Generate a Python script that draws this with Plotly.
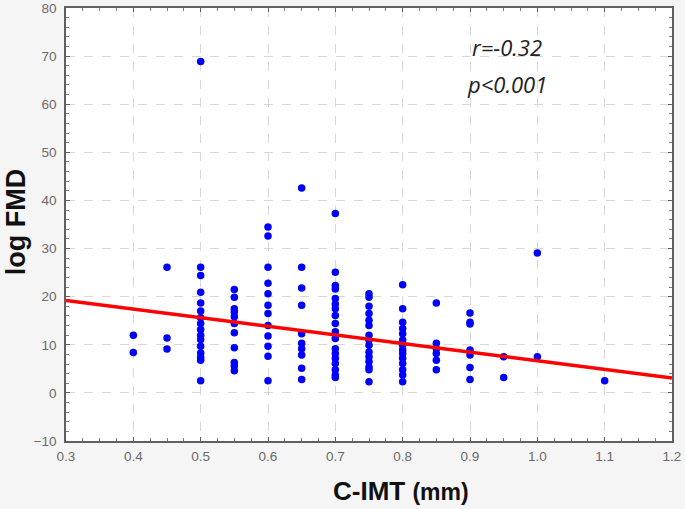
import plotly.graph_objects as go

# C-IMT (mm) value per column and log FMD values
imt_levels = [0.4, 0.45, 0.5, 0.55, 0.6, 0.65, 0.7, 0.75, 0.8, 0.85, 0.9, 0.95, 1.0, 1.1]
fmd_by_level = [
    [12.0, 8.4],
    [26.1, 11.4, 9.1],
    [68.9, 26.1, 24.4, 20.9, 18.7, 17.0, 15.6, 14.4, 13.2, 12.0, 11.1, 9.7, 8.3, 7.4, 6.8, 2.5],
    [21.5, 19.9, 17.5, 16.8, 15.8, 14.4, 12.5, 9.4, 6.3, 5.6, 4.6],
    [34.5, 32.6, 26.1, 22.8, 20.6, 18.2, 16.5, 14.0, 11.8, 9.7, 7.6, 2.5],
    [42.6, 26.1, 21.8, 18.2, 12.3, 10.3, 9.2, 7.9, 5.1, 2.8],
    [37.3, 25.1, 22.3, 21.6, 19.6, 18.5, 17.5, 16.1, 14.4, 12.7, 11.3, 9.2, 8.2, 7.2, 6.1, 4.8, 3.7, 3.2],
    [20.6, 19.9, 18.0, 16.5, 15.1, 14.0, 12.0, 11.0, 9.9, 8.5, 7.5, 6.5, 5.4, 4.8, 2.3],
    [22.5, 17.5, 14.7, 13.4, 12.3, 11.0, 9.9, 8.9, 8.2, 7.2, 6.1, 4.8, 3.7, 2.3],
    [18.7, 10.3, 9.2, 8.2, 6.8, 4.8],
    [16.6, 14.7, 14.3, 8.9, 7.9, 5.3, 2.8],
    [7.5, 3.2],
    [29.1, 7.5],
    [2.5],
]

# regression line end points
fit_x = [0.3, 1.2]
fit_y = [19.2, 3.1]

x_ticks = [0.3, 0.4, 0.5, 0.6, 0.7, 0.8, 0.9, 1.0, 1.1, 1.2]
x_tick_text = ["0.3", "0.4", "0.5", "0.6", "0.7", "0.8", "0.9", "1.0", "1.1", "1.2"]
y_ticks = [-10, 0, 10, 20, 30, 40, 50, 60, 70, 80]

xs, ys = [], []
for lvl, vals in zip(imt_levels, fmd_by_level):
    for v in vals:
        xs.append(lvl)
        ys.append(v)

fig = go.Figure()
fig.add_trace(go.Scatter(x=xs, y=ys, mode="markers",
                         marker=dict(color="#0000ff", size=7.5, line=dict(width=0)),
                         showlegend=False, cliponaxis=False))
fig.add_trace(go.Scatter(x=fit_x, y=fit_y, mode="lines",
                         line=dict(color="#ff0000", width=3.5), showlegend=False))

tickfont = dict(family="Liberation Sans, Arial", size=13.5, color="#6a6a6a")
common = dict(showgrid=True, gridcolor="#d8d8d8", griddash="dash", gridwidth=1,
              zeroline=False, showline=True, linecolor="#606060", linewidth=1.5, mirror="ticks",
              ticks="inside", ticklen=4, tickcolor="#606060", tickfont=tickfont,
              automargin=False)
fig.update_xaxes(range=[0.3, 1.2], tickvals=x_ticks, ticktext=x_tick_text, ticklabelstandoff=2,
                 minor=dict(dtick=0.025, ticks="inside", ticklen=3, tickcolor="#808080", showgrid=False),
                 **common)
fig.update_yaxes(range=[-10, 80], tickvals=y_ticks, ticklabelstandoff=5,
                 minor=dict(dtick=2, ticks="inside", ticklen=3, tickcolor="#808080", showgrid=False),
                 **common)

# axis titles
fig.add_annotation(xref="paper", yref="paper", x=0, y=0.505, xshift=-50,
                   text="<b>log FMD</b>", textangle=-90, showarrow=False,
                   xanchor="center", yanchor="middle",
                   font=dict(family="Liberation Sans, Arial", size=27, color="#111111"))
fig.add_annotation(xref="paper", yref="paper", x=0.553, y=-0.115,
                   text="<b>C-IMT</b> <b><span style='font-size:23px'>(mm)</span></b>",
                   showarrow=False, xanchor="center", yanchor="middle",
                   font=dict(family="Liberation Sans, Arial", size=26, color="#111111"))

# statistics text
fig.add_annotation(x=0.955, y=71.8, text="<i>r=-0.32</i>", showarrow=False,
                   font=dict(family="Open Sans, Liberation Sans", size=22, color="#222222"))
fig.add_annotation(x=0.955, y=64.3, text="<i>p<0.001</i>", showarrow=False,
                   font=dict(family="Open Sans, Liberation Sans", size=22, color="#222222"))

fig.update_layout(width=685, height=509,
                  margin=dict(l=66, r=13, t=8, b=68),
                  paper_bgcolor="#f5f5f5", plot_bgcolor="#ffffff")

fig.write_html("out.html", config={"displayModeBar": False},
               post_script="document.body.style.margin='0';document.body.style.background='#f5f5f5';")
